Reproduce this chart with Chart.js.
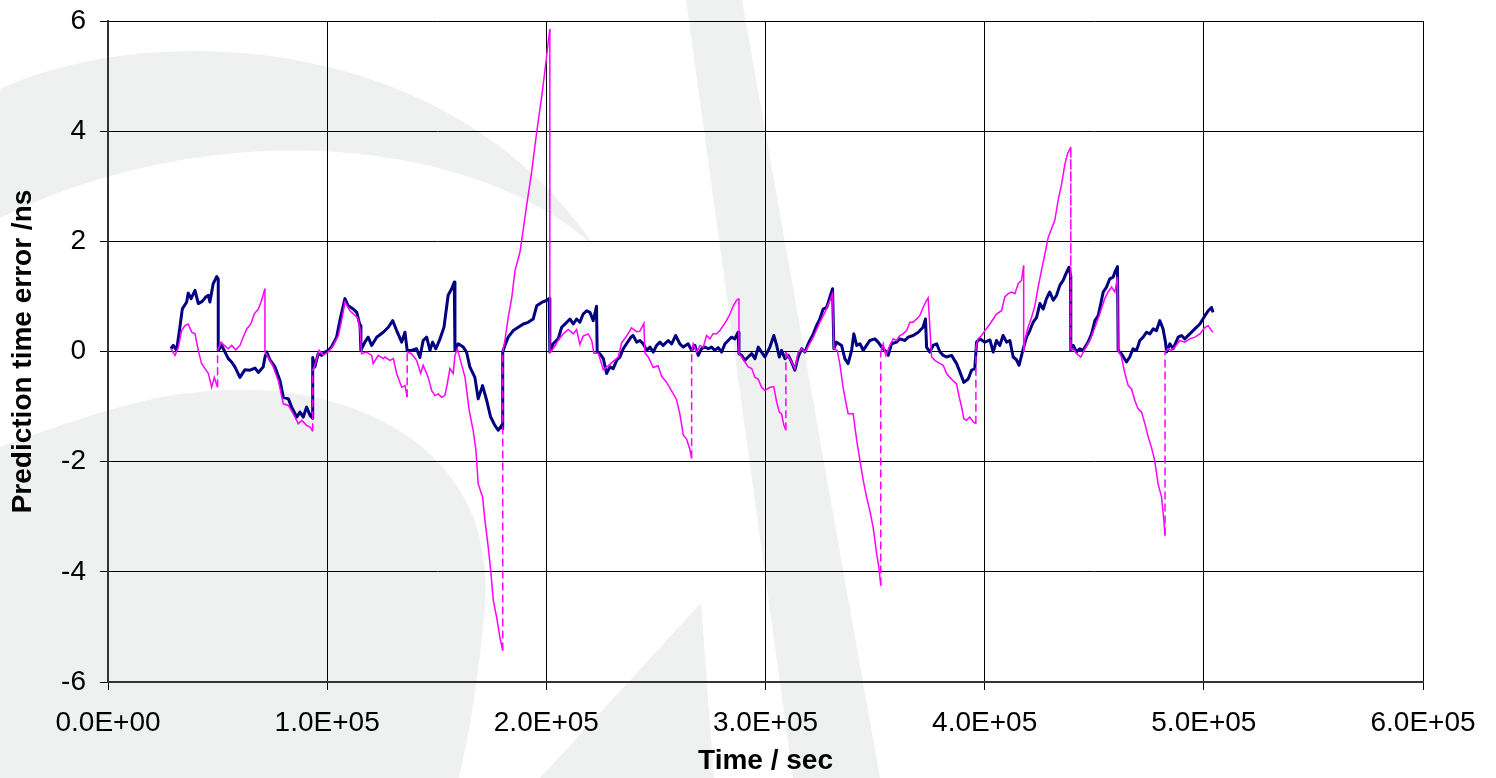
<!DOCTYPE html>
<html>
<head>
<meta charset="utf-8">
<script src="https://cdn.jsdelivr.net/npm/chart.js@4/dist/chart.umd.min.js"></script>
<style>
html, body { margin: 0; padding: 0; background: #fff; }
#wrap { position: relative; width: 1496px; height: 778px; }
</style>
</head>
<body>
<div id="wrap"><canvas id="lineChart"></canvas></div>
<script>
// times are in units of 1000 s (ks)
var navyTime = [
	28.7, 29.8, 31.3, 32.8, 33.9, 35.9, 36.6, 37.9, 39.7, 41.2,
	43.0, 44.6, 45.8, 46.5, 48.0, 49.6, 50.3, 50.3, 51.9, 53.4,
	54.9, 56.4, 57.9, 60.2, 62.5, 64.8, 67.1, 68.6, 70.8, 71.6,
	72.4, 73.9, 76.2, 78.5, 80.0, 82.3, 83.8, 86.1, 87.6, 89.1,
	90.6, 92.2, 93.4, 93.4, 94.4, 95.9, 97.5, 99.0, 100.5, 102.1,
	104.3, 105.8, 108.1, 109.6, 111.9, 113.5, 115.0, 115.4, 117.2, 118.7,
	120.3, 122.6, 125.6, 127.9, 129.9, 131.7, 134.0, 135.5, 136.5, 138.5,
	140.8, 142.3, 143.8, 145.4, 146.9, 148.1, 149.6, 151.5, 153.3, 155.2,
	156.8, 158.0, 158.3, 159.8, 162.1, 163.6, 165.1, 167.4, 168.9, 170.9,
	172.8, 174.6, 176.5, 178.1, 179.6, 180.1, 180.1, 181.1, 182.6, 184.9,
	187.2, 189.5, 191.7, 194.0, 195.6, 197.9, 200.1, 201.3, 201.6, 203.1,
	205.4, 207.0, 209.3, 210.8, 212.3, 213.8, 215.3, 216.8, 218.4, 219.9,
	221.4, 222.9, 223.2, 224.4, 226.0, 227.5, 229.0, 230.5, 232.1, 233.6,
	235.1, 236.6, 238.6, 239.6, 241.2, 242.7, 244.2, 245.8, 247.3, 248.8,
	250.3, 251.8, 253.3, 255.6, 257.2, 259.0, 260.9, 262.5, 264.7, 266.3,
	267.8, 269.3, 270.8, 272.4, 273.9, 275.4, 276.9, 278.4, 280.0, 281.5,
	283.0, 284.5, 286.0, 287.5, 287.9, 289.1, 290.6, 292.1, 293.7, 295.2,
	296.7, 298.2, 299.7, 302.0, 303.8, 305.1, 306.3, 307.3, 308.9, 310.4,
	311.9, 313.4, 314.9, 316.5, 318.0, 319.5, 321.8, 323.3, 324.8, 326.3,
	327.9, 329.4, 330.6, 331.2, 332.4, 334.7, 336.2, 337.7, 339.3, 340.3,
	341.6, 343.1, 344.6, 346.1, 347.6, 349.9, 351.4, 353.0, 354.5, 356.0,
	357.5, 359.8, 361.3, 363.6, 365.1, 367.4, 369.7, 371.9, 373.0, 373.5,
	375.0, 376.5, 378.1, 379.6, 381.1, 382.6, 384.9, 387.2, 388.7, 390.5,
	392.5, 394.0, 395.5, 396.3, 397.8, 400.1, 402.4, 403.9, 405.4, 406.9,
	408.4, 410.0, 411.5, 413.0, 414.5, 415.7, 417.6, 419.1, 420.6, 422.1,
	423.7, 425.2, 426.7, 428.2, 429.7, 431.3, 432.8, 434.3, 435.8, 437.4,
	438.5, 439.2, 439.3, 440.4, 441.9, 443.4, 444.9, 447.2, 448.8, 450.3,
	451.8, 454.1, 455.6, 457.1, 458.6, 459.4, 460.6, 460.9, 462.4, 464.7,
	466.2, 467.7, 469.3, 470.8, 472.3, 473.9, 475.4, 476.9, 478.4, 479.9,
	481.4, 482.5, 483.0, 484.5, 486.0, 488.3, 489.8, 491.3, 493.6, 495.9,
	498.2, 500.5, 502.0, 503.5, 504.2
];
var navyError = [
	0.05, 0.11, 0.02, 0.44, 0.77, 0.90, 1.06, 0.96, 1.11, 0.87,
	0.91, 0.99, 1.02, 0.90, 1.23, 1.36, 1.32, 0.02, 0.11, -0.01,
	-0.13, -0.19, -0.28, -0.47, -0.33, -0.34, -0.30, -0.38, -0.28, -0.11,
	-0.01, -0.15, -0.28, -0.53, -0.83, -0.86, -1.01, -1.19, -1.10, -1.19,
	-1.01, -1.16, -1.21, -0.11, -0.28, -0.04, -0.07, -0.01, 0.02, 0.09,
	0.26, 0.56, 0.96, 0.83, 0.77, 0.71, 0.47, 0.02, 0.17, 0.26,
	0.11, 0.26, 0.35, 0.44, 0.56, 0.38, 0.17, 0.35, 0.02, 0.02,
	0.05, -0.11, 0.20, 0.26, 0.02, 0.17, 0.05, 0.23, 0.44, 1.02,
	1.14, 1.26, 0.02, 0.14, 0.08, -0.01, -0.28, -0.47, -0.86, -0.62,
	-0.89, -1.19, -1.34, -1.43, -1.34, -1.40, -0.01, 0.11, 0.26, 0.38,
	0.44, 0.50, 0.53, 0.59, 0.83, 0.89, 0.93, 0.96, -0.01, 0.14,
	0.23, 0.44, 0.53, 0.59, 0.50, 0.59, 0.53, 0.68, 0.74, 0.71,
	0.56, 0.82, -0.01, -0.04, -0.13, -0.40, -0.28, -0.31, -0.16, -0.10,
	0.05, 0.14, 0.26, 0.29, 0.17, 0.20, 0.14, 0.02, 0.08, -0.01,
	0.11, 0.17, 0.11, 0.20, 0.14, 0.29, 0.14, 0.08, 0.14, 0.02,
	0.11, -0.07, 0.05, 0.08, 0.05, 0.08, 0.02, 0.07, -0.01, 0.14,
	0.20, 0.26, 0.23, 0.35, -0.04, -0.07, -0.16, -0.10, -0.04, -0.13,
	0.08, -0.01, -0.10, 0.08, 0.29, 0.11, -0.10, 0.02, -0.13, -0.07,
	-0.19, -0.34, -0.10, 0.05, -0.01, 0.14, 0.32, 0.47, 0.59, 0.77,
	0.80, 0.99, 1.14, 0.05, 0.17, 0.11, -0.13, -0.22, 0.02, 0.32,
	0.11, 0.14, 0.02, 0.11, 0.20, 0.23, 0.17, 0.08, 0.02, -0.07,
	0.14, 0.17, 0.23, 0.20, 0.26, 0.29, 0.35, 0.44, 0.59, 0.08,
	-0.01, 0.11, 0.14, -0.01, -0.07, -0.10, -0.07, -0.22, -0.37, -0.56,
	-0.50, -0.34, -0.31, 0.17, 0.23, 0.17, 0.21, -0.01, 0.20, 0.11,
	0.29, 0.17, 0.20, -0.10, -0.15, -0.25, 0.05, 0.26, 0.38, 0.53,
	0.62, 0.87, 0.77, 0.96, 1.08, 0.93, 1.02, 1.20, 1.29, 1.44,
	1.53, 1.38, 0.02, 0.11, -0.01, 0.05, 0.02, 0.17, 0.32, 0.56,
	0.65, 1.08, 1.17, 1.32, 1.35, 1.44, 1.54, 0.02, -0.04, -0.19,
	-0.10, 0.05, 0.02, 0.20, 0.26, 0.35, 0.32, 0.41, 0.38, 0.56,
	0.41, 0.17, -0.01, 0.14, 0.05, 0.26, 0.29, 0.23, 0.32, 0.41,
	0.50, 0.65, 0.74, 0.80, 0.71
];
var pinkTime = [
	28.7, 30.6, 32.1, 33.6, 35.1, 36.6, 38.2, 39.7, 41.2, 42.7,
	44.3, 45.8, 47.3, 48.5, 50.0, 50.0, 51.6, 53.1, 54.9, 56.4,
	58.3, 60.2, 61.7, 63.3, 65.2, 66.7, 68.6, 70.1, 71.6, 71.6,
	73.1, 75.4, 77.7, 80.0, 82.3, 84.5, 86.8, 88.4, 90.6, 92.2,
	93.4, 93.4, 94.4, 96.3, 98.2, 100.5, 102.8, 105.1, 106.6, 108.1,
	110.4, 111.9, 113.9, 115.0, 115.7, 118.0, 120.3, 121.0, 123.3, 125.6,
	126.4, 128.6, 130.2, 131.7, 134.0, 135.5, 136.5, 136.5, 138.5, 140.8,
	142.7, 143.8, 146.1, 147.7, 149.2, 150.7, 152.2, 153.7, 154.8, 156.0,
	157.5, 158.3, 159.4, 160.6, 162.9, 164.8, 166.6, 167.9, 168.9, 170.9,
	172.0, 173.5, 174.6, 175.8, 177.3, 178.8, 180.1, 180.1, 181.1, 182.6,
	184.2, 185.7, 188.0, 191.0, 193.3, 195.6, 197.9, 199.8, 200.9, 201.6,
	201.6, 203.1, 205.4, 207.7, 210.0, 212.3, 213.8, 215.3, 216.8, 219.1,
	220.7, 221.7, 223.7, 226.0, 228.2, 230.5, 232.8, 234.4, 236.6, 238.9,
	241.2, 242.7, 244.5, 245.0, 246.5, 248.8, 251.0, 252.6, 254.9, 257.2,
	259.4, 260.9, 262.5, 264.0, 265.5, 266.3, 266.3, 267.0, 268.6, 270.1,
	271.6, 273.1, 274.6, 276.1, 277.7, 279.2, 280.7, 282.2, 283.8, 285.3,
	286.8, 287.9, 287.9, 289.1, 290.6, 292.1, 293.7, 295.2, 296.7, 298.2,
	299.7, 302.0, 303.8, 305.1, 306.3, 307.3, 308.4, 309.3, 309.3, 310.4,
	311.9, 313.4, 314.9, 316.5, 318.0, 321.8, 324.8, 327.1, 329.4, 330.6,
	331.2, 332.7, 333.9, 335.4, 336.2, 337.7, 340.0, 341.6, 343.1, 344.6,
	346.1, 347.6, 349.1, 350.7, 351.7, 352.6, 352.6, 353.7, 354.9, 356.7,
	358.3, 359.8, 361.3, 362.8, 364.4, 365.9, 367.4, 368.9, 370.4, 371.9,
	373.5, 374.2, 375.8, 377.3, 379.6, 381.1, 382.6, 384.1, 385.6, 387.2,
	388.4, 389.5, 390.5, 391.7, 393.2, 394.8, 396.0, 396.0, 397.0, 398.6,
	400.1, 402.4, 405.4, 407.7, 409.2, 410.7, 412.3, 413.8, 415.3, 416.8,
	417.8, 417.8, 418.3, 419.8, 421.4, 422.9, 424.4, 425.9, 427.5, 429.0,
	430.5, 432.0, 433.5, 435.1, 436.6, 437.8, 439.3, 439.3, 440.4, 441.9,
	443.9, 445.7, 448.0, 450.3, 452.5, 454.8, 456.3, 457.9, 459.4, 460.6,
	460.9, 462.4, 464.0, 465.5, 467.0, 468.5, 470.0, 471.6, 473.1, 474.6,
	476.1, 477.6, 479.1, 480.7, 481.7, 482.3, 482.3, 483.7, 485.3, 486.8,
	489.0, 491.3, 493.6, 495.9, 498.2, 500.5, 502.0, 503.5, 504.2
];
var pinkError = [
	0.05, -0.07, 0.08, 0.38, 0.47, 0.50, 0.35, 0.32, 0.02, -0.22,
	-0.31, -0.40, -0.65, -0.47, -0.65, 0.02, 0.17, 0.11, 0.05, 0.11,
	0.03, 0.11, 0.26, 0.41, 0.50, 0.68, 0.77, 0.93, 1.14, -0.01,
	-0.10, -0.28, -0.53, -0.95, -0.98, -1.13, -1.31, -1.25, -1.34, -1.37,
	-1.45, -0.34, -0.25, 0.02, -0.07, -0.01, 0.11, 0.29, 0.56, 0.90,
	0.74, 0.68, 0.62, 0.41, -0.04, -0.01, -0.07, -0.22, -0.07, -0.13,
	-0.10, -0.16, -0.13, -0.40, -0.65, -0.62, -0.83, -0.01, -0.04, -0.16,
	-0.40, -0.25, -0.47, -0.71, -0.80, -0.77, -0.83, -0.80, -0.59, -0.31,
	-0.40, -0.07, 0.05, -0.13, -0.47, -1.07, -1.43, -1.80, -2.40, -2.64,
	-3.07, -3.55, -3.97, -4.52, -4.82, -5.19, -5.43, -0.01, 0.20, 0.62,
	0.97, 1.47, 1.81, 2.65, 3.26, 3.98, 4.63, 5.24, 5.63, 5.85,
	-0.03, 0.05, 0.20, 0.32, 0.40, 0.32, 0.40, 0.13, 0.28, 0.32,
	0.20, -0.03, -0.03, -0.33, -0.26, -0.18, -0.10, 0.16, 0.28, 0.43,
	0.36, 0.37, 0.51, -0.03, -0.10, -0.29, -0.26, -0.45, -0.56, -0.72,
	-0.87, -1.13, -1.52, -1.59, -1.78, -1.94, 0.01, 0.14, -0.01, 0.11,
	0.08, 0.29, 0.23, 0.32, 0.32, 0.38, 0.47, 0.56, 0.68, 0.83,
	0.93, 0.96, -0.04, -0.10, -0.19, -0.28, -0.31, -0.47, -0.50, -0.65,
	-0.71, -0.65, -0.64, -0.92, -1.10, -1.13, -1.34, -1.43, -0.01, -0.10,
	-0.19, -0.31, -0.01, 0.05, -0.01, 0.26, 0.53, 0.71, 0.93, 1.05,
	0.05, 0.02, -0.22, -0.65, -0.83, -1.13, -1.13, -1.61, -1.98, -2.34,
	-2.64, -2.89, -3.19, -3.67, -3.91, -4.25, -0.01, 0.14, -0.07, 0.11,
	0.23, 0.20, 0.29, 0.32, 0.38, 0.53, 0.53, 0.59, 0.65, 0.80,
	0.93, 0.97, -0.10, -0.16, -0.22, -0.25, -0.40, -0.47, -0.53, -0.59,
	-0.83, -1.01, -1.22, -1.25, -1.19, -1.28, -1.31, 0.08, 0.23, 0.29,
	0.38, 0.50, 0.68, 0.74, 0.99, 1.05, 1.08, 1.05, 1.23, 1.29,
	1.56, -0.01, 0.20, 0.44, 0.62, 0.83, 1.17, 1.47, 1.77, 2.07,
	2.23, 2.38, 2.74, 3.04, 3.40, 3.59, 3.71, 0.02, 0.05, -0.04,
	-0.10, 0.05, 0.20, 0.44, 0.68, 0.96, 1.08, 1.17, 1.08, 1.35,
	0.02, -0.10, -0.40, -0.62, -0.68, -0.89, -1.04, -1.10, -1.31, -1.55,
	-1.74, -1.98, -2.40, -2.64, -3.04, -3.34, -0.01, 0.05, 0.02, 0.08,
	0.20, 0.17, 0.23, 0.26, 0.32, 0.44, 0.47, 0.38, 0.35
];
var xTickLabels = ['0.0E+00', '1.0E+05', '2.0E+05', '3.0E+05', '4.0E+05', '5.0E+05', '6.0E+05'];

var FONT = '"Liberation Sans", Arial, sans-serif';

function toPoints(times, values) {
	return times.map((t, i) => ({ x: t * 1000, y: values[i] }));
}

// faint grey logo behind the plot
var watermark = {
	id: 'watermark',
	beforeDraw: function(chart) {
		var c = chart.ctx;
		c.save();
		c.fillStyle = '#eff1f0';

		c.beginPath();
		c.moveTo(0, 89);
		c.bezierCurveTo(150, 20, 450, 30, 595, 247);
		c.bezierCurveTo(480, 140, 220, 110, 0, 218);
		c.closePath();
		c.fill();

		var pts = [[0, 447], [120, 402], [241, 386], [340, 400], [420, 440], [470, 500],
			[488, 570], [482, 643], [470, 727], [459, 778]];
		c.beginPath();
		c.moveTo(pts[0][0], pts[0][1]);
		for (var i = 1; i < pts.length - 1; i++) {
			var mx = (pts[i][0] + pts[i + 1][0]) / 2, my = (pts[i][1] + pts[i + 1][1]) / 2;
			c.quadraticCurveTo(pts[i][0], pts[i][1], mx, my);
		}
		c.lineTo(459, 778);
		c.lineTo(0, 778);
		c.closePath();
		c.fill();

		c.beginPath();
		c.moveTo(540, 778);
		c.lineTo(701, 603);
		c.lineTo(714, 778);
		c.closePath();
		c.fill();

		c.beginPath();
		c.moveTo(686, 0);
		c.lineTo(742, 0);
		c.lineTo(880, 778);
		c.lineTo(793, 778);
		c.closePath();
		c.fill();
		c.restore();
	}
};

var ctxL = document.getElementById('lineChart').getContext('2d');
var myChart = new Chart(ctxL, {
	type: 'scatter',
	data: {
		datasets: [
			{
				label: 'navy',
				data: toPoints(navyTime, navyError),
				showLine: true,
				borderColor: '#000080',
				borderWidth: 3,
				borderJoinStyle: 'round',
				pointRadius: 0,
				order: 2
			},
			{
				label: 'pink',
				data: toPoints(pinkTime, pinkError),
				showLine: true,
				borderColor: '#ff00ff',
				borderWidth: 1.5,
				pointRadius: 0,
				order: 1,
				segment: {
					borderDash: ctx => ctx.p0.parsed.x === ctx.p1.parsed.x ? [8, 4] : undefined
				}
			}
		]
	},
	options: {
		responsive: true,
		maintainAspectRatio: false,
		animation: false,
		layout: { padding: { top: 21, right: 73, left: 0, bottom: 0 } },
		plugins: { legend: { display: false }, tooltip: { enabled: false } },
		scales: {
			x: {
				type: 'linear',
				min: 0,
				max: 600000,
				afterFit: s => { s.height = 96; s.paddingLeft = 0; s.paddingRight = 0; },
				ticks: {
					stepSize: 100000,
					autoSkip: false,
					maxRotation: 0,
					padding: 16,
					color: '#000',
					font: { family: FONT, size: 28 },
					callback: (v, i) => xTickLabels[i]
				},
				grid: { color: '#000', lineWidth: 1, tickLength: 8 },
				border: { color: '#333', width: 2 },
				title: {
					display: true, text: 'Time / sec', color: '#000',
					font: { family: FONT, size: 28, weight: 'bold' },
					padding: { top: 0, bottom: 0 }
				}
			},
			y: {
				min: -6,
				max: 6,
				afterFit: s => { s.width = 108; s.paddingTop = 0; s.paddingBottom = 0; },
				ticks: {
					stepSize: 2,
					padding: 14,
					color: '#000',
					font: { family: FONT, size: 28 }
				},
				grid: { color: '#000', lineWidth: 1, tickLength: 8 },
				border: { color: '#333', width: 2 },
				title: {
					display: true, text: 'Prediction time error /ns', color: '#000',
					font: { family: FONT, size: 28, weight: 'bold' },
					padding: { top: 6, bottom: 0 }
				}
			}
		}
	},
	plugins: [watermark]
});
</script>
</body>
</html>
